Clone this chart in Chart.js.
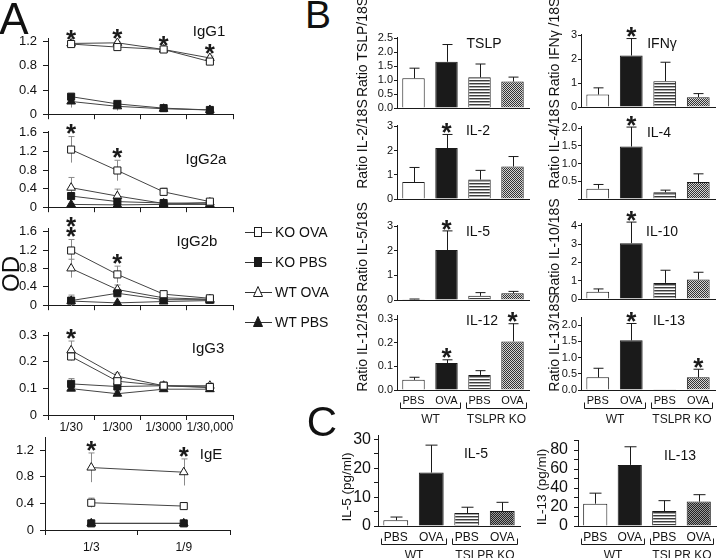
<!DOCTYPE html>
<html>
<head>
<meta charset="utf-8">
<title>TSLPR KO antibody and cytokine panels</title>
<script src="https://cdn.jsdelivr.net/npm/chart.js@4.4.1/dist/chart.umd.min.js"></script>
<style>
  html, body { margin: 0; padding: 0; background: #fff; }
  body { position: relative; width: 720px; height: 558px; overflow: hidden; font-family: "Liberation Sans", Arial, sans-serif; color: #111; }
  canvas { position: absolute; }
  .note { position: absolute; white-space: nowrap; line-height: 1; transform: translate(-50%, -50%); }
  .note.up { transform: translate(-50%, -50%) rotate(-90deg); }
  .key { position: absolute; font-size: 14px; line-height: 1; white-space: nowrap; }
  .key svg { position: absolute; left: 0; top: 0; }
  .key span { position: absolute; left: 31px; top: 1px; }
</style>
</head>
<body>
<script>
// panel A: serum antibody OD by dilution
const dilutions = ["1/30", "1/300", "1/3000", "1/30,000"];
const igeDilutions = ["1/3", "1/9"];
const seriesNames = ["KO OVA", "KO PBS", "WT OVA", "WT PBS"];

const igg1KoOva = [1.16, 1.11, 1.07, 0.87];
const igg1KoOvaErr = [0.02, 0.02, 0.02, 0.03];
const igg1KoPbs = [0.29, 0.17, 0.1, 0.07];
const igg1KoPbsErr = [0.05, 0.04, 0.02, 0.01];
const igg1WtOva = [1.17, 1.18, 1.07, 0.93];
const igg1WtOvaErr = [0.02, 0.02, 0.02, 0.03];
const igg1WtPbs = [0.21, 0.13, 0.09, 0.07];
const igg1WtPbsErr = [0.1, 0.07, 0.02, 0.01];
const igg1Stars = [1, 1, 1, 1];

const igg2aKoOva = [1.24, 0.79, 0.33, 0.12];
const igg2aKoOvaErr = [0.28, 0.22, 0.08, 0.03];
const igg2aKoPbs = [0.24, 0.12, 0.09, 0.07];
const igg2aKoPbsErr = [0.05, 0.03, 0.02, 0.01];
const igg2aWtOva = [0.42, 0.24, 0.08, 0.1];
const igg2aWtOvaErr = [0.22, 0.15, 0.03, 0.02];
const igg2aWtPbs = [0.06, 0.05, 0.06, 0.06];
const igg2aWtPbsErr = [0.02, 0.02, 0.01, 0.01];
const igg2aStars = [1, 1, 0, 0];

const igg2bKoOva = [1.19, 0.67, 0.24, 0.15];
const igg2bKoOvaErr = [0.24, 0.18, 0.04, 0.03];
const igg2bKoPbs = [0.1, 0.26, 0.12, 0.12];
const igg2bKoPbsErr = [0.12, 0.05, 0.02, 0.02];
const igg2bWtOva = [0.8, 0.34, 0.16, 0.13];
const igg2bWtOvaErr = [0.2, 0.1, 0.03, 0.03];
const igg2bWtPbs = [0.09, 0.05, 0.08, 0.1];
const igg2bWtPbsErr = [0.02, 0.02, 0.02, 0.02];
const igg2bStars = [2, 1, 0, 0];

const igg3KoOva = [0.22, 0.127, 0.11, 0.105];
const igg3KoOvaErr = [0.015, 0.01, 0.005, 0.005];
const igg3KoPbs = [0.117, 0.107, 0.11, 0.103];
const igg3KoPbsErr = [0.02, 0.008, 0.006, 0.006];
const igg3WtOva = [0.243, 0.146, 0.11, 0.11];
const igg3WtOvaErr = [0.035, 0.012, 0.006, 0.01];
const igg3WtPbs = [0.099, 0.08, 0.097, 0.097];
const igg3WtPbsErr = [0.008, 0.008, 0.005, 0.005];
const igg3Stars = [1, 0, 0, 0];

const igeKoOva = [0.41, 0.36];
const igeKoOvaErr = [0.07, 0.05];
const igeKoPbs = [0.1, 0.1];
const igeKoPbsErr = [0.02, 0.02];
const igeWtOva = [0.94, 0.87];
const igeWtOvaErr = [0.22, 0.2];
const igeWtPbs = [0.1, 0.1];
const igeWtPbsErr = [0.02, 0.02];
const igeStars = [1, 1];

// panel B: mRNA ratio to 18S
const treatments = ["PBS", "OVA", "PBS", "OVA"];
const groupNames = ["WT", "TSLPR KO"];

const tslp = [1.07, 1.66, 1.1, 0.95];
const tslpErr = [0.36, 0.62, 0.48, 0.16];
const tslpStars = [0, 0, 0, 0];
const il2 = [0.7, 2.1, 0.8, 1.34];
const il2Err = [0.6, 0.56, 0.38, 0.41];
const il2Stars = [0, 1, 0, 0];
const il5 = [0.03, 2.03, 0.17, 0.27];
const il5Err = [0.01, 0.78, 0.13, 0.08];
const il5Stars = [0, 1, 0, 0];
const il12 = [0.043, 0.114, 0.064, 0.206];
const il12Err = [0.011, 0.014, 0.018, 0.075];
const il12Stars = [0, 1, 0, 1];
const ifng = [0.52, 2.15, 1.08, 0.41];
const ifngErr = [0.28, 0.71, 0.79, 0.15];
const ifngStars = [0, 1, 0, 0];
const il4 = [0.29, 1.48, 0.19, 0.48];
const il4Err = [0.12, 0.55, 0.06, 0.23];
const il4Stars = [0, 1, 0, 0];
const il10 = [0.39, 3.05, 0.88, 1.06];
const il10Err = [0.16, 1.15, 0.69, 0.4];
const il10Stars = [0, 1, 0, 0];
const il13 = [0.39, 1.53, 0.01, 0.39];
const il13Err = [0.28, 0.52, 0, 0.25];
const il13Stars = [0, 1, 0, 1];

// panel C: protein (pg/ml)
const il5Protein = [2.0, 18.5, 4.5, 5.2];
const il5ProteinErr = [1.1, 9.5, 2.0, 3.0];
const il13Protein = [23.5, 64.4, 15.8, 25.7];
const il13ProteinErr = [11.1, 19.1, 10.9, 7.3];

const ink = "#1a1a1a";
const FONT = '"Liberation Sans", Arial, sans-serif';
Chart.defaults.font.family = FONT;
Chart.defaults.color = "#111";

function makePattern(w, h, paint) {
  const c = document.createElement("canvas");
  c.width = w; c.height = h;
  const g = c.getContext("2d");
  paint(g);
  return g.createPattern(c, "repeat");
}
const stripes = makePattern(2, 3, g => {
  g.fillStyle = "#fff"; g.fillRect(0, 0, 2, 3);
  g.fillStyle = "#3c3c3c"; g.fillRect(0, 0, 2, 1);
  g.fillStyle = "#a8a8a8"; g.fillRect(0, 1, 2, 1);
});
const dots = makePattern(2, 2, g => {
  g.fillStyle = "#d4d4d4"; g.fillRect(0, 0, 2, 2);
  g.fillStyle = "#333"; g.fillRect(0, 0, 1, 1); g.fillRect(1, 1, 1, 1);
});
const darkDots = makePattern(2, 2, g => {
  g.fillStyle = "#9a9a9a"; g.fillRect(0, 0, 2, 2);
  g.fillStyle = "#222"; g.fillRect(0, 0, 1, 1); g.fillRect(1, 1, 1, 1);
});

// keep only ticks on whole multiples of the step (no extra tick at max)
const onStep = step => s => {
  s.ticks = s.ticks.filter(t => Math.abs(t.value / step - Math.round(t.value / step)) < 1e-6);
};

// error bars from dataset.errors, drawn under the points for line charts
function drawErrors(chart, o) {
  const { ctx } = chart, y = chart.scales.y;
  ctx.save();
  ctx.strokeStyle = o.color || ink;
  ctx.lineWidth = 1;
  chart.data.datasets.forEach((ds, di) => {
    if (!ds.errors) return;
    chart.getDatasetMeta(di).data.forEach((el, i) => {
      const v = ds.data[i], e = ds.errors[i];
      if (!e) return;
      const x = Math.round(el.x) + 0.5;
      const hi = y.getPixelForValue(v + e);
      const lo = y.getPixelForValue(o.oneSided ? v : v - e);
      ctx.beginPath();
      ctx.moveTo(x, lo); ctx.lineTo(x, hi);
      ctx.moveTo(x - o.cap, hi); ctx.lineTo(x + o.cap, hi);
      ctx.stroke();
    });
  });
  ctx.restore();
}
const errorBars = {
  id: "errorBars",
  beforeDatasetsDraw(chart, args, o) { if (o.under) drawErrors(chart, o); },
  afterDatasetsDraw(chart, args, o) { if (!o.under) drawErrors(chart, o); }
};

// significance asterisks above the highest error bar of a category
const stars = {
  id: "stars",
  afterDatasetsDraw(chart, args, o) {
    if (!o.counts) return;
    const { ctx } = chart, x = chart.scales.x, y = chart.scales.y;
    ctx.save();
    ctx.font = `bold ${o.size}px ${FONT}`;
    ctx.textAlign = "center";
    ctx.textBaseline = "alphabetic";
    ctx.fillStyle = ink;
    o.counts.forEach((n, i) => {
      if (!n) return;
      let top = Infinity;
      chart.data.datasets.forEach(ds => {
        top = Math.min(top, y.getPixelForValue(ds.data[i] + (ds.errors ? ds.errors[i] : 0)));
      });
      for (let k = 0; k < n; k++) {
        const cy = top - o.gap - k * o.step;
        ctx.fillText("*", x.getPixelForValue(i), cy + o.size * 0.6);
      }
    });
    ctx.restore();
  }
};

// WT / TSLPR KO brackets under the x labels
const brackets = {
  id: "brackets",
  afterDraw(chart, args, o) {
    if (!o.groups) return;
    const { ctx } = chart, x = chart.scales.x, base = chart.chartArea.bottom;
    const half = (x.getPixelForValue(1) - x.getPixelForValue(0)) / 2;
    ctx.save();
    ctx.strokeStyle = ink; ctx.fillStyle = ink; ctx.lineWidth = 1;
    ctx.font = `${o.size}px ${FONT}`;
    ctx.textAlign = "center"; ctx.textBaseline = "middle";
    o.groups.forEach(([name, from, to]) => {
      const a = Math.round(x.getPixelForValue(from) - half + o.inset) + 0.5;
      const b = Math.round(x.getPixelForValue(to) + half - o.inset) + 0.5;
      const ly = Math.round(base + o.lineY) + 0.5;
      ctx.beginPath();
      ctx.moveTo(a, ly - o.hook); ctx.lineTo(a, ly); ctx.lineTo(b, ly); ctx.lineTo(b, ly - o.hook);
      ctx.stroke();
      ctx.fillText(name, (a + b) / 2, base + o.textY);
    });
    ctx.restore();
  }
};

function mount(area, pad) {
  const c = document.createElement("canvas");
  const w = area.r - area.l + pad.l + pad.r, h = area.b - area.t + pad.t + pad.b;
  c.width = w; c.height = h;
  c.style.left = (area.l - pad.l) + "px";
  c.style.top = (area.t - pad.t) + "px";
  c.style.width = w + "px";
  c.style.height = h + "px";
  document.body.appendChild(c);
  return c;
}

function draw(area, pad, config) {
  const o = config.options;
  o.responsive = false;
  o.animation = false;
  o.devicePixelRatio = 1;
  o.layout = { padding: { top: pad.t, right: pad.r, bottom: 0, left: 0 } };
  o.scales.x.afterFit = s => { s.height = pad.b; };
  o.scales.y.afterFit = s => { s.width = pad.l; };
  o.plugins = Object.assign({ legend: { display: false }, tooltip: { enabled: false } }, o.plugins);
  config.plugins = [errorBars, stars, brackets];
  return new Chart(mount(area, pad), config);
}

const markers = {
  koOva: { pointStyle: "rect", pointBackgroundColor: "#fff", pointRadius: 5 },
  koPbs: { pointStyle: "rect", pointBackgroundColor: ink, pointRadius: 5 },
  wtOva: { pointStyle: "triangle", pointBackgroundColor: "#fff", pointRadius: 5 },
  wtPbs: { pointStyle: "triangle", pointBackgroundColor: ink, pointRadius: 5 }
};
function series(style, data, errors) {
  return Object.assign({ data, errors, borderColor: "#444", borderWidth: 1, pointBorderColor: ink, pointBorderWidth: 1, tension: 0, fill: false }, markers[style]);
}

function odChart(area, pad, labels, sets, max, step, sig, showLabels, labelPad) {
  return draw(area, pad, {
    type: "line",
    data: { labels, datasets: sets },
    options: {
      scales: {
        x: {
          type: "category", offset: true,
          grid: { display: true, offset: true, drawOnChartArea: false, tickLength: 5, color: ink },
          border: { color: ink },
          ticks: { display: showLabels, font: { size: 12 }, padding: labelPad, maxRotation: 0, autoSkip: false }
        },
        y: {
          min: 0, max, bounds: "data",
          afterBuildTicks: onStep(step),
          grid: { drawOnChartArea: false, tickLength: 5, color: ink },
          border: { color: ink },
          ticks: { stepSize: step, includeBounds: false, autoSkip: false, font: { size: 13 }, padding: 6, callback: v => String(+v.toFixed(2)) }
        }
      },
      plugins: {
        errorBars: { under: true, cap: 3, color: "#8a8a8a" },
        stars: { counts: sig, gap: 10, step: 10, size: 26 }
      }
    }
  });
}

function barChart(area, pad, values, errors, sig, y, look) {
  return draw(area, pad, {
    type: "bar",
    data: {
      labels: treatments,
      datasets: [{
        data: values, errors,
        backgroundColor: ["#fff", ink, stripes, look.dots],
        borderColor: ink, borderWidth: 1,
        barPercentage: look.barPct, categoryPercentage: 1
      }]
    },
    options: {
      scales: {
        x: {
          grid: { display: false, drawTicks: false },
          border: { color: ink },
          ticks: { display: look.labels, font: { size: look.xSize }, padding: look.xPad, maxRotation: 0, autoSkip: false }
        },
        y: {
          min: 0, max: y.max, bounds: "data",
          afterBuildTicks: onStep(y.step),
          grid: { drawOnChartArea: false, tickLength: look.tick, color: ink },
          border: { color: ink },
          ticks: { stepSize: y.step, includeBounds: false, autoSkip: false, font: { size: look.ySize }, padding: look.yPad, callback: y.fmt }
        }
      },
      plugins: {
        errorBars: { under: false, oneSided: true, cap: look.cap, color: ink },
        stars: { counts: sig, gap: 9, step: 10, size: 26 },
        brackets: look.labels ? { groups: groupNames.map((n, k) => [n, 2 * k, 2 * k + 1]), inset: 3, lineY: 18, hook: 6, textY: 30, size: 12 } : {}
      }
    }
  });
}

// ---- panel A
const padA = { l: 48, t: 26, r: 6, b: 6 };
const padA3 = { l: 48, t: 26, r: 6, b: 26 };
odChart({ l: 48, r: 233, t: 38, b: 122 }, padA, dilutions, [
  series("koOva", igg1KoOva, igg1KoOvaErr), series("koPbs", igg1KoPbs, igg1KoPbsErr),
  series("wtOva", igg1WtOva, igg1WtOvaErr), series("wtPbs", igg1WtPbs, igg1WtPbsErr)
], 1.26, 0.4, igg1Stars, false, 1);
odChart({ l: 48, r: 233, t: 131, b: 215 }, padA, dilutions, [
  series("koOva", igg2aKoOva, igg2aKoOvaErr), series("koPbs", igg2aKoPbs, igg2aKoPbsErr),
  series("wtOva", igg2aWtOva, igg2aWtOvaErr), series("wtPbs", igg2aWtPbs, igg2aWtPbsErr)
], 1.64, 0.4, igg2aStars, false, 1);
odChart({ l: 48, r: 233, t: 228, b: 313 }, padA, dilutions, [
  series("koOva", igg2bKoOva, igg2bKoOvaErr), series("koPbs", igg2bKoPbs, igg2bKoPbsErr),
  series("wtOva", igg2bWtOva, igg2bWtOvaErr), series("wtPbs", igg2bWtPbs, igg2bWtPbsErr)
], 1.68, 0.4, igg2bStars, false, 1);
odChart({ l: 48, r: 233, t: 332, b: 415 }, padA3, dilutions, [
  series("koOva", igg3KoOva, igg3KoOvaErr), series("koPbs", igg3KoPbs, igg3KoPbsErr),
  series("wtOva", igg3WtOva, igg3WtOvaErr), series("wtPbs", igg3WtPbs, igg3WtPbsErr)
], 0.312, 0.1, igg3Stars, true, 0);
odChart({ l: 45, r: 230, t: 437, b: 530 }, { l: 45, t: 26, r: 6, b: 26 }, igeDilutions, [
  series("koOva", igeKoOva, igeKoOvaErr), series("koPbs", igeKoPbs, igeKoPbsErr),
  series("wtOva", igeWtOva, igeWtOvaErr), series("wtPbs", igeWtPbs, igeWtPbsErr)
], 1.4, 0.4, igeStars, true, 5);

// ---- panel B
const lookB = { dots, barPct: 0.68, labels: false, xSize: 11, xPad: 4, ySize: 11, yPad: 1, tick: 3, cap: 5 };
const lookBLow = Object.assign({}, lookB, { labels: true });
const oneDec = v => v.toFixed(1);
const whole = v => String(v);
const padBL = { l: 40, t: 26, r: 4, b: 8 }, padBLlow = { l: 40, t: 26, r: 4, b: 40 };
const padBR = { l: 30, t: 26, r: 4, b: 8 }, padBRlow = { l: 30, t: 26, r: 4, b: 40 };

barChart({ l: 397, r: 529, t: 37, b: 108 }, padBL, tslp, tslpErr, tslpStars, { max: 2.55, step: 0.5, fmt: oneDec }, lookB);
barChart({ l: 397, r: 529, t: 125, b: 199 }, padBL, il2, il2Err, il2Stars, { max: 3.05, step: 1, fmt: whole }, lookB);
barChart({ l: 397, r: 529, t: 225, b: 300 }, padBL, il5, il5Err, il5Stars, { max: 3.05, step: 1, fmt: whole }, lookB);
barChart({ l: 397, r: 529, t: 315, b: 390 }, padBLlow, il12, il12Err, il12Stars, { max: 0.318, step: 0.1, fmt: oneDec }, lookBLow);
barChart({ l: 581, r: 715, t: 34, b: 107 }, padBR, ifng, ifngErr, ifngStars, { max: 3.05, step: 1, fmt: whole }, lookB);
barChart({ l: 581, r: 715, t: 126, b: 199 }, padBR, il4, il4Err, il4Stars, { max: 2.06, step: 0.5, fmt: v => v === 0 ? "" : v.toFixed(1) }, lookB);
barChart({ l: 581, r: 715, t: 223, b: 299 }, padBR, il10, il10Err, il10Stars, { max: 4.15, step: 1, fmt: whole }, lookB);
barChart({ l: 581, r: 715, t: 317, b: 390 }, padBRlow, il13, il13Err, il13Stars, { max: 2.25, step: 0.5, fmt: oneDec }, lookBLow);

// ---- panel C
const lookC = { dots: darkDots, barPct: 0.7, labels: true, xSize: 12, xPad: 4, ySize: 16, yPad: 3, tick: 4, cap: 6 };
barChart({ l: 378, r: 520, t: 433, b: 526 }, { l: 32, t: 10, r: 4, b: 32 }, il5Protein, il5ProteinErr, [0, 0, 0, 0],
  { max: 31.3, step: 5, fmt: v => v % 10 === 0 ? String(v) : "" }, lookC);
barChart({ l: 578, r: 716, t: 435, b: 526 }, { l: 32, t: 10, r: 4, b: 32 }, il13Protein, il13ProteinErr, [0, 0, 0, 0],
  { max: 90, step: 10, fmt: v => v % 20 === 0 ? String(v) : "" }, Object.assign({}, lookC, { yPad: 6 }));

// ---- text: panel letters, titles, axis titles
function note(text, x, y, size, up) {
  const d = document.createElement("div");
  d.className = up ? "note up" : "note";
  d.textContent = text;
  d.style.left = x + "px";
  d.style.top = y + "px";
  d.style.fontSize = size + "px";
  document.body.appendChild(d);
}
[["A", 14, 19, 44], ["B", 318, 14, 39], ["C", 322, 422, 42],
 ["IgG1", 209, 30, 15], ["IgG2a", 206, 158, 15], ["IgG2b", 197, 240, 15], ["IgG3", 208, 347, 15], ["IgE", 211, 453, 15],
 ["TSLP", 484, 43, 14], ["IL-2", 478, 130, 14], ["IL-5", 478, 231, 14], ["IL-12", 482, 320, 14],
 ["IFNγ", 662, 43, 14], ["IL-4", 659, 132, 14], ["IL-10", 662, 231, 14], ["IL-13", 669, 320, 14],
 ["IL-5", 476, 453, 14], ["IL-13", 680, 455, 14]
].forEach(([t, x, y, s]) => note(t, x, y, s, false));
[["Ratio TSLP/18S", 362, 47, 14], ["Ratio IL-2/18S", 362, 144, 14], ["Ratio IL-5/18S", 362, 247, 14], ["Ratio IL-12/18S", 362, 343, 14],
 ["Ratio IFNγ /18S", 554, 47, 14], ["Ratio IL-4/18S", 554, 144, 14], ["Ratio IL-10/18S", 554, 247, 14], ["Ratio IL-13/18S", 554, 343, 14],
 ["IL-5 (pg/ml)", 347, 487, 13.5], ["IL-13 (pg/ml)", 542, 487, 13.5], ["OD", 11, 274, 24]
].forEach(([t, x, y, s]) => note(t, x, y, s, true));

// ---- legend for panel A
const legendShapes = [
  '<rect x="10.5" y="3.5" width="7" height="9" fill="#fff" stroke="#1a1a1a"/>',
  '<rect x="10.5" y="3.5" width="7" height="9" fill="#1a1a1a" stroke="#1a1a1a"/>',
  '<polygon points="14,2.5 9.5,12.5 18.5,12.5" fill="#fff" stroke="#1a1a1a"/>',
  '<polygon points="14,2.5 9.5,12.5 18.5,12.5" fill="#1a1a1a" stroke="#1a1a1a"/>'
];
seriesNames.forEach((name, i) => {
  const row = document.createElement("div");
  row.className = "key";
  row.style.left = "244px";
  row.style.top = (224 + i * 30) + "px";
  row.innerHTML = `<svg width="30" height="16"><line x1="1" y1="8.5" x2="28" y2="8.5" stroke="#333"/>${legendShapes[i]}</svg><span>${name}</span>`;
  document.body.appendChild(row);
});
</script>
</body>
</html>
